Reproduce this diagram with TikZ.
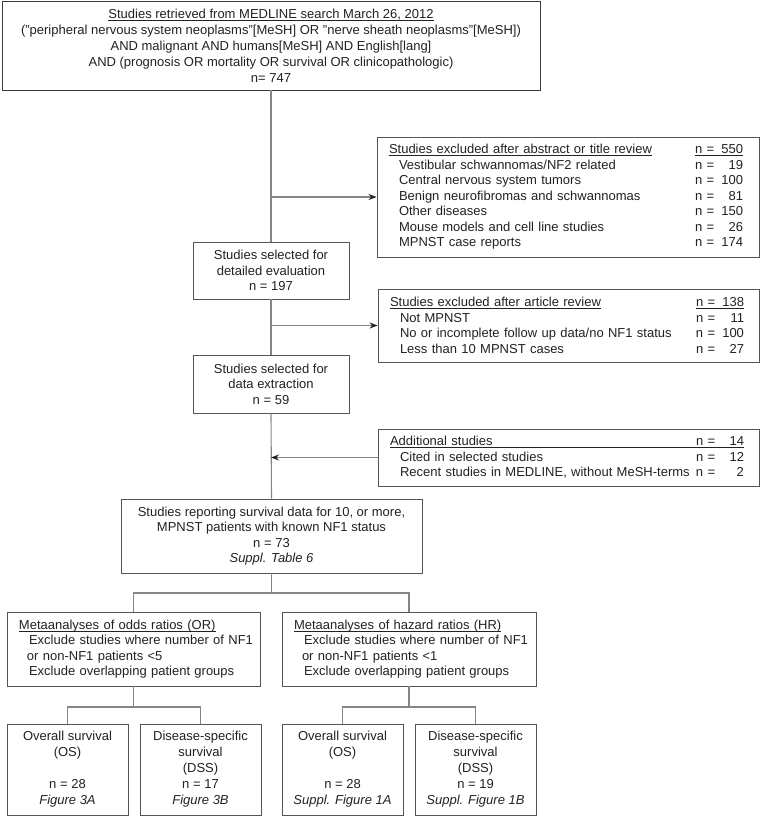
\documentclass[tikz,border=0pt]{standalone}
\usepackage{fontspec}
\setmainfont{Liberation Sans}
\usetikzlibrary{arrows.meta}
\definecolor{txtc}{HTML}{222222}
\definecolor{boxc}{HTML}{555555}
\definecolor{topc}{HTML}{3A3A3A}
\definecolor{linec}{HTML}{858585}
\definecolor{tipc}{HTML}{222222}
\newcommand\qq{\symbol{34}}
\newcommand\myul[1]{\setbox0\hbox{#1}\rlap{\rule[-2.3pt]{\wd0}{0.75pt}}\box0}
\newcommand\fsz{\fontsize{13}{15.5}\selectfont}
\newcommand\trow[2]{\makebox[306pt][l]{\myul{#1}}\myul{\makebox[48pt][l]{n =\hfill #2}}}
\newcommand\irow[2]{\hspace*{10pt}\makebox[296pt][l]{#1}\makebox[48pt][l]{n =\hfill #2}}
\begin{document}
\begin{tikzpicture}[x=1pt,y=-1pt,
  box/.style={draw=boxc, line width=0.9pt, fill=white, inner sep=0pt, font=\fsz, text=txtc, align=center},
  lbox/.style={box, align=left, inner xsep=12pt},
  conn/.style={draw=linec, line width=1.1pt},
  arr/.style={conn, -{Stealth[length=8pt,width=6pt,color=tipc]}}]
\useasboundingbox (0,0) rectangle (763,817);

\node[box, draw=topc, minimum width=538pt, minimum height=89pt, font=\fontsize{13}{16}\selectfont] (top) at (271,45.5)
 {\myul{Studies retrieved from MEDLINE search March 26, 2012}\\
  (\qq peripheral nervous system neoplasms\qq[MeSH] OR \qq nerve sheath neoplasms\qq[MeSH])\\
  AND malignant AND humans[MeSH] AND English[lang]\\
  AND (prognosis OR mortality OR survival OR clinicopathologic)\\
  n= 747};

\node[lbox, text width=358pt, minimum height=120pt] (ex1) at (568,197)
 {\trow{Studies excluded after abstract or title review}{550}\\
  \irow{Vestibular schwannomas/NF2 related}{19}\\
  \irow{Central nervous system tumors}{100}\\
  \irow{Benign neurofibromas and schwannomas}{81}\\
  \irow{Other diseases}{150}\\
  \irow{Mouse models and cell line studies}{26}\\
  \irow{MPNST case reports}{174}};

\node[box, minimum width=156pt, minimum height=57pt] (det) at (271,270.5)
 {Studies selected for\\detailed evaluation\\n = 197};

\node[lbox, text width=357pt, minimum height=73pt] (ex2) at (568.5,325.5)
 {\trow{Studies excluded after article review}{138}\\
  \irow{Not MPNST}{11}\\
  \irow{No or incomplete follow up data/no NF1 status}{100}\\
  \irow{Less than 10 MPNST cases}{27}};

\node[box, minimum width=156pt, minimum height=58pt] (ext) at (271,384)
 {Studies selected for\\data extraction\\n = 59};

\node[lbox, text width=357pt, minimum height=57pt] (add) at (568.5,457.5)
 {\myul{\makebox[306pt][l]{Additional studies}\makebox[48pt][l]{n =\hfill 14}}\\
  \irow{Cited in selected studies}{12}\\
  \irow{Recent studies in MEDLINE, without MeSH-terms}{2}};

\node[box, minimum width=301pt, minimum height=74pt] (rep) at (271.5,536)
 {Studies reporting survival data for 10, or more,\\
  MPNST patients with known NF1 status\\
  n = 73\\
  \textit{Suppl. Table 6}};

\node[lbox, text width=229pt, minimum height=74pt] (or) at (133.5,649)
 {\mbox{\myul{Metaanalyses of odds ratios (OR)}}\\
  \mbox{\hspace*{10pt}Exclude studies where number of NF1}\\
  \mbox{\hspace*{8pt}or non-NF1 patients <5}\\
  \mbox{\hspace*{10pt}Exclude overlapping patient groups}};

\node[lbox, text width=230pt, minimum height=74pt] (hr) at (409,649)
 {\mbox{\myul{Metaanalyses of hazard ratios (HR)}}\\
  \mbox{\hspace*{10pt}Exclude studies where number of NF1}\\
  \mbox{\hspace*{8pt}or non-NF1 patients <1}\\
  \mbox{\hspace*{10pt}Exclude overlapping patient groups}};

\node[box, minimum width=121pt, minimum height=91pt, font=\fontsize{13}{16}\selectfont] (os1) at (67.5,769.5)
 {Overall survival\\(OS)\\[16pt]n = 28\\\textit{Figure 3A}};
\node[box, minimum width=121pt, minimum height=91pt, font=\fontsize{13}{16}\selectfont] (dss1) at (200.5,769.5)
 {Disease-specific\\survival\\(DSS)\\n = 17\\\textit{Figure 3B}};
\node[box, minimum width=121pt, minimum height=91pt, font=\fontsize{13}{16}\selectfont] (os2) at (342.5,769.5)
 {Overall survival\\(OS)\\[16pt]n = 28\\\textit{Suppl. Figure 1A}};
\node[box, minimum width=121pt, minimum height=91pt, font=\fontsize{13}{16}\selectfont] (dss2) at (475.5,769.5)
 {Disease-specific\\survival\\(DSS)\\n = 19\\\textit{Suppl. Figure 1B}};

% main spine
\draw[conn] (top.south) -- (det.north);
\draw[conn] (det.south) -- (ext.north);
\draw[conn] (ext.south) -- (rep.north);
\draw[arr] (top.south |- ex1.west) -- (ex1.west);
\draw[arr] (det.south |- ex2.west) -- (ex2.west);
\draw[arr] (add.west) -- (ext.south |- add.west);

% branches
\coordinate (b1) at (271.5,593);
\draw[conn] (rep.south) -- (b1);
\draw[conn] (b1) -| (or.north);
\draw[conn] (b1) -| (hr.north);
\coordinate (b2) at (133.5,707);
\draw[conn] (or.south) -- (b2);
\draw[conn] (b2) -| (os1.north);
\draw[conn] (b2) -| (dss1.north);
\coordinate (b3) at (409,707);
\draw[conn] (hr.south) -- (b3);
\draw[conn] (b3) -| (os2.north);
\draw[conn] (b3) -| (dss2.north);
\end{tikzpicture}
\end{document}
